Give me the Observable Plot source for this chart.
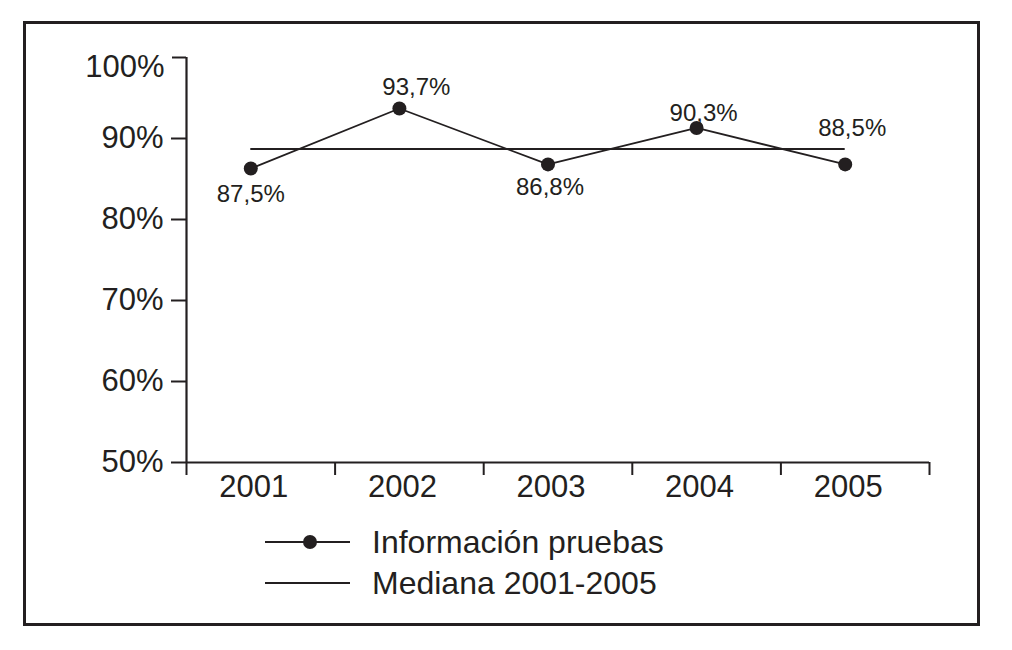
<!DOCTYPE html>
<html>
<head>
<meta charset="utf-8">
<script src="https://cdn.jsdelivr.net/npm/d3@7"></script>
<script src="https://cdn.jsdelivr.net/npm/@observablehq/plot@0.6"></script>
<style>
  html, body { margin: 0; padding: 0; background: #fff; }
  #wrap { position: relative; width: 1012px; height: 650px; overflow: hidden; font-family: "Liberation Sans", Arial, Helvetica, sans-serif; }
  #frame { position: absolute; left: 23px; top: 21px; width: 951px; height: 599px; border: 3px solid #231f20; }
  #chart { position: absolute; left: 0; top: 0; }
  #legend { position: absolute; left: 0; top: 0; }
</style>
</head>
<body>
<div id="wrap">
  <div id="frame"></div>
  <div id="chart"></div>
  <svg id="legend" width="1012" height="650"></svg>
</div>
<script>
// ---- data ----
const years = [2001, 2002, 2003, 2004, 2005];
const values = [86.3, 93.7, 86.8, 91.3, 86.8];          // plotted positions
const valueLabels = ["87,5%", "93,7%", "86,8%", "90,3%", "88,5%"];
const median = 88.7;                                     // "Mediana 2001-2005"
const yTicks = [50, 60, 70, 80, 90, 100];
const seriesNames = ["Información pruebas", "Mediana 2001-2005"];

const rows = years.map((year, i) => ({year, value: values[i], label: valueLabels[i]}));

const ink = "#231f20";
const font = "'Liberation Sans', Arial, Helvetica, sans-serif";
const bounds = [years[0] - 0.5, ...years.map(y => y + 0.5)];

// per-label placement (style only)
const labelDx = [-10, 7, -8, -3, -3];
const labelDy = [26, -21, 23, -15, -36];
const shift = -10;

const chart = Plot.plot({
  width: 1012,
  height: 500,
  marginTop: 57,
  marginBottom: 38,
  marginLeft: 186,
  marginRight: 83,
  style: {fontFamily: font, color: ink, background: "transparent", overflow: "visible"},
  x: {type: "linear", domain: [bounds[0], bounds[bounds.length - 1]], label: null},
  y: {domain: [50, 100], label: null},
  marks: [
    // y axis line and x axis line
    Plot.ruleX([bounds[0]], {y1: 50, y2: 100, stroke: ink, strokeWidth: 2.2}),
    Plot.ruleY([50], {x1: bounds[0], x2: bounds[bounds.length - 1], stroke: ink, strokeWidth: 2.2}),
    // x boundary ticks
    Plot.axisX({ticks: bounds, tickSize: 13, tickFormat: () => "", label: null, stroke: ink, strokeWidth: 2}),
    // year labels
    Plot.axisX({ticks: years, tickSize: 0, tickPadding: 12, dx: -7, label: null, tickFormat: d => String(d), fontSize: 31, fill: ink}),
    // y axis ticks + labels
    Plot.axisY({ticks: yTicks.filter(t => t < 100), tickSize: 15, tickPadding: 8, label: null, tickFormat: d => d + "%", fontSize: 31, fill: ink, stroke: ink, strokeWidth: 2}),
    Plot.axisY({ticks: [100], tickSize: 14, tickFormat: () => "", label: null, stroke: ink, strokeWidth: 2}),
    Plot.axisY({ticks: [100], tickSize: 0, tickPadding: 22, dy: 10, label: null, tickFormat: d => d + "%", fontSize: 31, fill: ink}),
    // median
    Plot.ruleY([median], {x1: years[0], x2: years[years.length - 1], dx: shift, stroke: ink, strokeWidth: 2}),
    // series
    Plot.line(rows, {x: "year", y: "value", dx: shift, stroke: ink, strokeWidth: 1.8}),
    Plot.dot(rows, {x: "year", y: "value", dx: shift, r: 7, fill: ink, stroke: "none"}),
    ...rows.map((r, i) => Plot.text([r], {x: "year", y: "value", text: "label", dx: labelDx[i], dy: labelDy[i], fontSize: 24, fill: ink}))
  ]
});
document.getElementById("chart").appendChild(chart);

// ---- legend ----
const lg = d3.select("#legend");
const rowsY = [542, 583];
seriesNames.forEach((name, i) => {
  const g = lg.append("g").attr("transform", `translate(0,${rowsY[i]})`);
  g.append("line").attr("x1", 265).attr("x2", 350).attr("y1", 0).attr("y2", 0)
    .attr("stroke", ink).attr("stroke-width", 1.8);
  if (i === 0) g.append("circle").attr("cx", 310).attr("cy", 0).attr("r", 7).attr("fill", ink);
  g.append("text").attr("x", 372).attr("y", 0).attr("dy", "0.35em")
    .attr("font-family", font).attr("font-size", 32).attr("fill", ink).text(name);
});
</script>
</body>
</html>
